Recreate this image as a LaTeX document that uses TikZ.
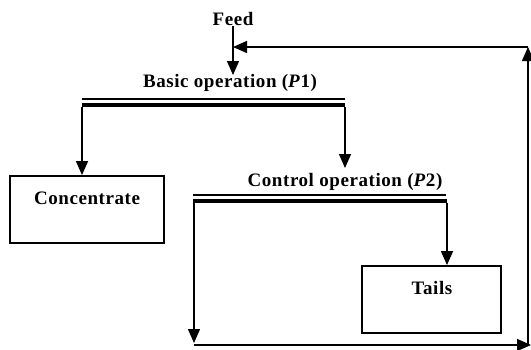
\documentclass[tikz,border=0pt]{standalone}
\usepackage{fontspec}
\setmainfont{Liberation Serif}
\usetikzlibrary{arrows.meta}
\begin{document}
\begin{tikzpicture}[x=1pt,y=-1pt,
  lbl/.style={font=\fontsize{19}{21}\selectfont\bfseries\addfontfeature{LetterSpace=3}, inner sep=0pt},
  conn/.style={line width=1.3pt},
  arr/.style={conn, -{Triangle[width=12pt,length=14pt]}},
  boxst/.style={draw, line width=1.8pt, inner sep=0pt},
  thinbar/.style={line width=1.2pt},
  thickbar/.style={line width=4.5pt}]
\useasboundingbox (0,0) rectangle (531,349);
% texts
\node[lbl] (feed) at (233,19) {Feed};
\node[lbl] (p1) at (230,83) {Basic operation (\textit{P}1)};
\node[lbl] (p2) at (345,182) {Control operation (\textit{P}2)};
% boxes
\node[boxst, minimum width=154pt, minimum height=67pt] (conc) at (87,209.5) {};
\node[lbl] (conct) at (87,198) {Concentrate};
\node[boxst, minimum width=139pt, minimum height=67pt] (tails) at (431.5,299.5) {};
\node[lbl] (tailst) at (432,288) {Tails};
% bar 1
\coordinate (b1l) at (82,99);
\coordinate (b1r) at (345,99);
\coordinate (t1l) at (82,105);
\coordinate (t1r) at (345,105);
\draw[thinbar] (b1l) -- (b1r);
\draw[thickbar] (t1l) -- (t1r);
% bar 2
\coordinate (b2l) at (193,195);
\coordinate (b2r) at (446,195);
\coordinate (t2l) at (193,201);
\coordinate (t2r) at (447,201);
\draw[thinbar] (b2l) -- (b2r);
\draw[thickbar] (t2l) -- (t2r);
% connector end points
\coordinate (d1l) at (82,107);
\coordinate (d1r) at (345,107);
\coordinate (e1r) at (345,168);
\coordinate (d2l) at (194,203);
\coordinate (e2l) at (194,343);
\coordinate (d2r) at (447,203);
% recycle path corners
\coordinate (bl) at (194,345);
\coordinate (br) at (531,345);
\coordinate (rb) at (528,345);
\coordinate (rt) at (528,47);
\coordinate (fj) at (233,47);
\coordinate (f2) at (233,75);
% connectors
\draw[arr] (feed.south) -- (f2);
\draw[arr] (d1l) -- (d1l |- conc.north);
\draw[arr] (d1r) -- (e1r);
\draw[arr] (d2r) -- (d2r |- tails.north);
\draw[arr] (d2l) -- (e2l);
\draw[arr] (bl) -- (br);
\draw[arr] (rb) -- (rt);
\draw[arr] (rt) -- (fj);
\end{tikzpicture}
\end{document}
